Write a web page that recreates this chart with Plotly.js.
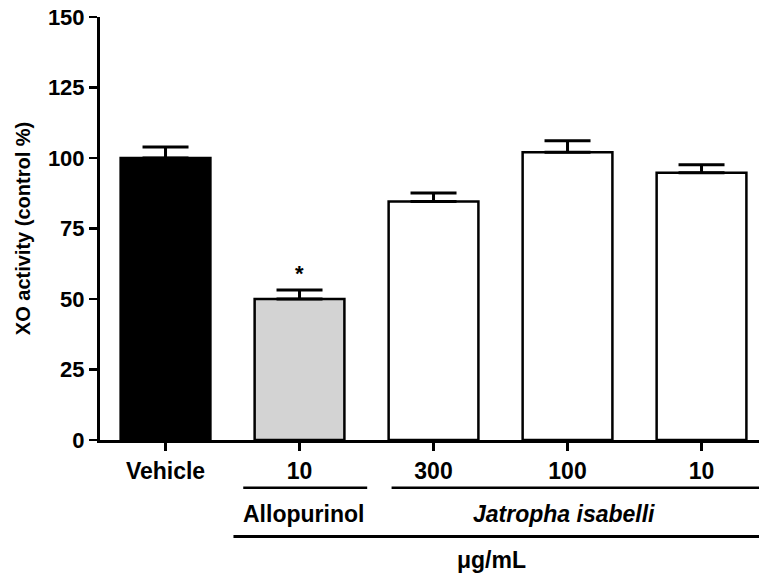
<!DOCTYPE html>
<html>
<head>
<meta charset="utf-8">
<script src="https://cdn.plot.ly/plotly-3.0.1.min.js"></script>
<style>html,body{margin:0;padding:0;background:#fff;}#chart{width:759px;height:576px;}</style>
</head>
<body>
<div id="chart"></div>
<script>
// ---- data ----
var positions = [0, 1, 2, 3, 4];
var tickLabels = ['Vehicle', '10', '300', '100', '10'];
var values = [100, 50, 84.6, 102, 94.8];
var errors = [3.9, 3.2, 3.0, 4.1, 2.8];
var fills = ['#000000', '#d3d3d3', '#ffffff', '#ffffff', '#ffffff'];
var yTicks = [0, 25, 50, 75, 100, 125, 150];
var groupNames = ['Allopurinol', 'Jatropha isabelli'];
var unitLabel = '\u03bcg/mL';
var yTitle = 'XO activity (control %)';
var sigIndex = 1;

var fontFam = 'Arial, "Liberation Sans", Helvetica, sans-serif';

var trace = {
  type: 'bar',
  x: positions,
  y: values,
  width: 0.67,
  marker: {color: fills, line: {color: '#000', width: 2.5}},
  error_y: {
    type: 'data', symmetric: false,
    array: errors, arrayminus: errors.map(function(){return 0;}),
    color: '#000', thickness: 3, width: 23
  },
  hoverinfo: 'none'
};

function bf(size, style) {
  var f = {family: fontFam, size: size, color: '#000', weight: 'bold'};
  if (style) f.style = style;
  return f;
}

var shapes = [
  {type: 'line', xref: 'x', yref: 'paper', x0: 0.58, x1: 1.505, y0: -0.113, y1: -0.113,
   line: {color: '#000', width: 2.5}},
  {type: 'line', xref: 'x', yref: 'paper', x0: 1.687, x1: 4.6, y0: -0.113, y1: -0.113,
   line: {color: '#000', width: 2.5}},
  {type: 'line', xref: 'x', yref: 'paper', x0: 0.507, x1: 4.6, y0: -0.228, y1: -0.228,
   line: {color: '#000', width: 3}}
];

var annotations = [
  {x: 1.03, xref: 'x', y: -0.174, yref: 'paper', text: groupNames[0], showarrow: false,
   xanchor: 'center', yanchor: 'middle', font: bf(23)},
  {x: 2.97, xref: 'x', y: -0.174, yref: 'paper', text: groupNames[1], showarrow: false,
   xanchor: 'center', yanchor: 'middle', font: bf(23, 'italic')},
  {x: 2.43, xref: 'x', y: -0.283, yref: 'paper', text: unitLabel, showarrow: false,
   xanchor: 'center', yanchor: 'middle', font: bf(23)},
  {x: positions[sigIndex], xref: 'x', y: values[sigIndex] + errors[sigIndex], yref: 'y',
   text: '*', showarrow: false, xanchor: 'center', yanchor: 'bottom', yshift: 2,
   font: bf(22)}
];

var layout = {
  width: 759, height: 576,
  margin: {l: 100, r: 0, t: 17, b: 136, pad: 0},
  paper_bgcolor: '#fff', plot_bgcolor: '#fff',
  showlegend: false,
  bargap: 0,
  xaxis: {
    range: [-0.489, 4.429],
    tickvals: positions, ticktext: tickLabels,
    showline: true, linecolor: '#000', linewidth: 3,
    ticks: 'outside', ticklen: 8, tickwidth: 2.5, tickcolor: '#000',
    tickfont: bf(23), showgrid: false, zeroline: false, fixedrange: true
  },
  yaxis: {
    range: [0, 150],
    tickvals: yTicks,
    showline: true, linecolor: '#000', linewidth: 3,
    ticks: 'outside', ticklen: 8, tickwidth: 2.5, tickcolor: '#000',
    tickfont: bf(22), showgrid: false, zeroline: false, fixedrange: true,
    title: {text: yTitle, font: bf(20), standoff: 12}
  },
  shapes: shapes,
  annotations: annotations
};

Plotly.newPlot('chart', [trace], layout, {displayModeBar: false, staticPlot: true});
</script>
</body>
</html>
